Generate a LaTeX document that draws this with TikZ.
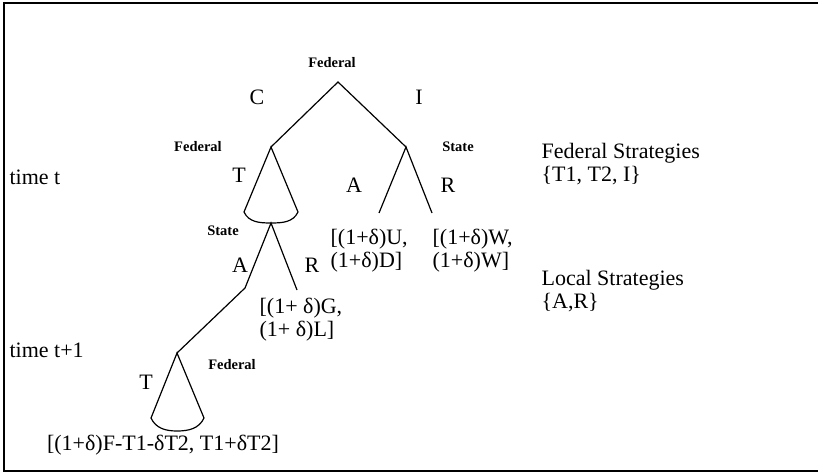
\documentclass[tikz,border=0pt]{standalone}
\usepackage{fontspec}
\setmainfont{Liberation Serif}

\begin{document}
\begin{tikzpicture}[x=1pt,y=-1pt,line width=1.2pt,
  move/.style={font=\fontsize{22}{23}\selectfont,inner sep=0pt},
  player/.style={font=\fontsize{14.5}{16}\selectfont\bfseries,inner sep=0pt},
  pay/.style={move,align=left,anchor=north west}]
\useasboundingbox (0,0) rectangle (818,473);
\draw[line width=2.5pt] (818,3) -| (4,471) -- (818,471);

\coordinate (v0) at (338,82);
\coordinate (v1) at (271,147);
\coordinate (v2) at (406,147);
\coordinate (c1l) at (244,212);
\coordinate (c1r) at (298,212);
\coordinate (v3) at (271,223);
\coordinate (v4) at (379,213);
\coordinate (v5) at (432,213);
\coordinate (v6) at (245,288);
\coordinate (v7) at (297,290);
\coordinate (v8) at (177,353);
\coordinate (c2l) at (151,418);
\coordinate (c2r) at (204,418);
\coordinate (v9) at (177,431);

\draw (v1) -- (v0) -- (v2);
\draw (v4) -- (v2) -- (v5);
\draw (c1r) -- (v1) -- (c1l) to[out=-65,in=180] (v3) to[out=0,in=-115] (c1r);
\draw (v7) -- (v3) -- (v6) -- (v8);
\draw (c2r) -- (v8) -- (c2l) to[out=-65,in=180] (v9) to[out=0,in=-115] (c2r);

\node[player] (f0) at (332,63) {Federal};
\node[move] (c) at (257,97) {C};
\node[move] (i) at (419,97) {I};
\node[player] (f1) at (198,147) {Federal};
\node[player] (s1) at (458,147) {State};
\node[move] (t1) at (239,175) {T};
\node[move] (a1) at (354,185) {A};
\node[move] (r1) at (448,185) {R};
\node[pay] (pu) at (330,229) {[(1+δ)U,\\(1+δ)D]};
\node[pay] (pw) at (432,229) {[(1+δ)W,\\(1+δ)W]};
\node[player] (s2) at (223,231) {State};
\node[move] (a2) at (240,265) {A};
\node[move] (r2) at (312,265) {R};
\node[pay] (pg) at (259,298) {[(1+ δ)G,\\(1+ δ)L]};
\node[player] (f2) at (232,365) {Federal};
\node[move] (t2) at (146,382) {T};
\node[move] (pf) at (163,445) {[(1+δ)F-T1-δT2, T1+δT2]};

\node[move,anchor=west] (tt) at (9,177) {time t};
\node[move,anchor=west] (tt1) at (9,350) {time t+1};
\node[pay] (fs) at (541,143) {Federal Strategies\\\{T1, T2, I\}};
\node[pay] (ls) at (541,270) {Local Strategies\\\{A,R\}};
\end{tikzpicture}
\end{document}
